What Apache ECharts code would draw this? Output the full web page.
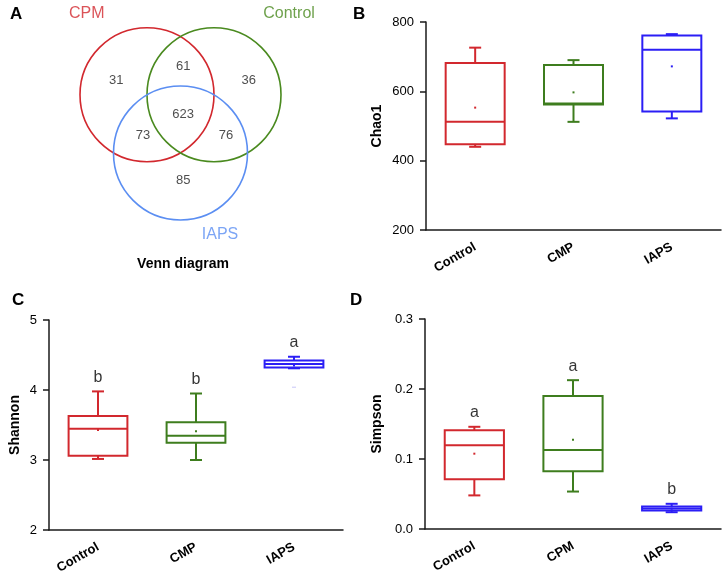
<!DOCTYPE html>
<html><head><meta charset="utf-8">
<script src="https://cdn.jsdelivr.net/npm/echarts@6/dist/echarts.min.js"></script>
<style>html,body{margin:0;padding:0;background:#fff}#c{width:726px;height:581px}</style>
</head><body><div id="c"></div><script>
// ---- data ----
const vennSets = ['CPM', 'Control', 'IAPS'];
const vennCounts = [31, 61, 36, 623, 73, 76, 85]; // CPM only, CPM∩Control, Control only, all, CPM∩IAPS, Control∩IAPS, IAPS only

const chaoCats = ['Control', 'CMP', 'IAPS'];
const chaoMin = [440, 512, 522];
const chaoQ1 = [447, 562, 542];
const chaoMed = [512, 565, 720];
const chaoQ3 = [682, 676, 761];
const chaoMax = [726, 690, 765];
const chaoMean = [553, 597, 672];
const chaoTicks = [200, 400, 600, 800];

const shanCats = ['Control', 'CMP', 'IAPS'];
const shanMin = [3.015, 3.0, 4.31];
const shanQ1 = [3.06, 3.245, 4.32];
const shanMed = [3.445, 3.345, 4.37];
const shanQ3 = [3.63, 3.54, 4.42];
const shanMax = [3.98, 3.95, 4.475];
const shanMean = [3.43, 3.41, 4.35];
const shanOutlier = [[2, 4.04]];
const shanLetters = ['b', 'b', 'a'];
const shanTicks = [2, 3, 4, 5];

const simpCats = ['Control', 'CPM', 'IAPS'];
const simpMin = [0.048, 0.0535, 0.024];
const simpQ1 = [0.071, 0.0825, 0.0264];
const simpMed = [0.1195, 0.113, 0.0293];
const simpQ3 = [0.141, 0.19, 0.032];
const simpMax = [0.146, 0.2126, 0.036];
const simpMean = [0.1076, 0.1276, 0.029];
const simpLetters = ['a', 'a', 'b'];
const simpTicks = [0.0, 0.1, 0.2, 0.3];

// ---- layout / style ----
const boxColors = ['#d2282e', '#3e7d1e', '#2b1ef5'];
const vennColors = ['#d2282e', '#4a8a1f', '#5b8ef2'];
const vennCircleLayout = [[-0.5, 0.29, 1], [0.5, 0.29, 1], [0, -0.58, 1]];
const vennCountLayout = [[-0.96, 0.50], [0.04, 0.72], [1.02, 0.50], [0.04, -0.01], [-0.56, -0.31], [0.68, -0.31], [0.04, -0.99]];
const vennSetLayout = [[-1.40, 1.50], [1.62, 1.50], [0.59, -1.80]];
const FONT = 'Liberation Sans, Arial, sans-serif';

function boxData(mn, q1, md, q3, mx, mean) {
  return mn.map((v, i) => [i, mn[i], q1[i], md[i], q3[i], mx[i], mean[i]]);
}

function renderBox(params, api) {
  const i = api.value(0);
  const pMin = api.coord([i, api.value(1)]);
  const pQ1 = api.coord([i, api.value(2)]);
  const pMed = api.coord([i, api.value(3)]);
  const pQ3 = api.coord([i, api.value(4)]);
  const pMax = api.coord([i, api.value(5)]);
  const pMean = api.coord([i, api.value(6)]);
  const band = api.size([1, 0])[0];
  const hw = band * 0.3;
  const cw = 6;
  const x = pMin[0];
  const c = boxColors[i];
  const st = { stroke: c, lineWidth: 2, fill: null };
  return {
    type: 'group',
    children: [
      { type: 'line', shape: { x1: x, y1: pQ3[1], x2: x, y2: pMax[1] }, style: st },
      { type: 'line', shape: { x1: x - cw, y1: pMax[1], x2: x + cw, y2: pMax[1] }, style: st },
      { type: 'line', shape: { x1: x, y1: pQ1[1], x2: x, y2: pMin[1] }, style: st },
      { type: 'line', shape: { x1: x - cw, y1: pMin[1], x2: x + cw, y2: pMin[1] }, style: st },
      { type: 'rect', shape: { x: x - hw, y: pQ3[1], width: 2 * hw, height: pQ1[1] - pQ3[1] }, style: { stroke: c, lineWidth: 2, fill: '#fff' } },
      { type: 'line', shape: { x1: x - hw, y1: pMed[1], x2: x + hw, y2: pMed[1] }, style: st },
      { type: 'rect', shape: { x: pMean[0] - 1, y: pMean[1] - 1, width: 2, height: 2 }, style: { fill: c } }
    ]
  };
}

function renderCircle(params, api) {
  const c = api.coord([api.value(0), api.value(1)]);
  const r = api.size([api.value(2), 0])[0];
  return { type: 'circle', shape: { cx: c[0], cy: c[1], r: r }, style: { stroke: vennColors[params.dataIndex], lineWidth: 1.6, fill: null } };
}

const axisLineStyle = { color: '#1a1a1a', width: 1.5 };
function xAx(gi, cats) {
  return {
    type: 'category', gridIndex: gi, data: cats, boundaryGap: true,
    axisLine: { lineStyle: axisLineStyle },
    axisTick: { alignWithLabel: true, length: 5, lineStyle: axisLineStyle },
    axisLabel: { rotate: 30, color: '#000', fontWeight: 'bold', fontSize: 13, fontFamily: FONT, margin: 16 },
    splitLine: { show: false }
  };
}
function yAx(gi, ticks, name, gap, fmt) {
  return {
    type: 'value', gridIndex: gi, min: ticks[0], max: ticks[ticks.length - 1], interval: ticks[1] - ticks[0],
    name: name, nameLocation: 'middle', nameGap: gap,
    nameTextStyle: { color: '#000', fontWeight: 'bold', fontSize: 14, fontFamily: FONT },
    axisLine: { show: true, lineStyle: axisLineStyle },
    axisTick: { show: true, length: 6, lineStyle: axisLineStyle },
    axisLabel: { color: '#000', fontSize: 13, fontFamily: FONT, margin: 12, formatter: fmt },
    splitLine: { show: false }
  };
}

const chart = echarts.init(document.getElementById('c'), null, { renderer: 'canvas' });
const option = {
  backgroundColor: '#fff',
  animation: false,
  grid: [
    { left: 13, top: 7, width: 335, height: 261.3 },
    { left: 426, top: 22, width: 295, height: 208 },
    { left: 49, top: 320, width: 294, height: 210 },
    { left: 425, top: 319, width: 296, height: 210 }
  ],
  xAxis: [
    { type: 'value', gridIndex: 0, min: -2.5, max: 2.5, show: false },
    xAx(1, chaoCats), xAx(2, shanCats), xAx(3, simpCats)
  ],
  yAxis: [
    { type: 'value', gridIndex: 0, min: -2.3, max: 1.6, show: false },
    yAx(1, chaoTicks, 'Chao1', 42, v => String(v)),
    yAx(2, shanTicks, 'Shannon', 27, v => String(v)),
    yAx(3, simpTicks, 'Simpson', 41, v => v.toFixed(1))
  ],
  graphic: [
    { type: 'text', left: 10, top: 6, style: { text: 'A', font: 'bold 17px ' + FONT, fill: '#000' } },
    { type: 'text', left: 353, top: 6, style: { text: 'B', font: 'bold 17px ' + FONT, fill: '#000' } },
    { type: 'text', left: 12, top: 292, style: { text: 'C', font: 'bold 17px ' + FONT, fill: '#000' } },
    { type: 'text', left: 350, top: 292, style: { text: 'D', font: 'bold 17px ' + FONT, fill: '#000' } },
    { type: 'text', x: 183, y: 264, style: { text: 'Venn diagram', font: 'bold 14px ' + FONT, fill: '#000', align: 'center', verticalAlign: 'middle' } }
  ],
  series: [
    { type: 'custom', xAxisIndex: 0, yAxisIndex: 0, renderItem: renderCircle, data: vennCircleLayout, silent: true },
    { type: 'scatter', xAxisIndex: 0, yAxisIndex: 0, symbolSize: 0,
      data: vennCounts.map((v, i) => vennCountLayout[i]),
      label: { show: true, position: 'inside', formatter: p => String(vennCounts[p.dataIndex]), color: '#222', fontSize: 13, fontFamily: FONT } },
    { type: 'scatter', xAxisIndex: 0, yAxisIndex: 0, symbolSize: 0,
      data: vennSets.map((s, i) => ({ value: vennSetLayout[i], label: { color: vennColors[i] } })),
      label: { show: true, position: 'inside', formatter: p => vennSets[p.dataIndex], fontSize: 16, fontFamily: FONT } },
    { type: 'custom', xAxisIndex: 1, yAxisIndex: 1, renderItem: renderBox, encode: { x: 0, y: [1, 2, 3, 4, 5] },
      data: boxData(chaoMin, chaoQ1, chaoMed, chaoQ3, chaoMax, chaoMean) },
    { type: 'custom', xAxisIndex: 2, yAxisIndex: 2, renderItem: renderBox, encode: { x: 0, y: [1, 2, 3, 4, 5] },
      data: boxData(shanMin, shanQ1, shanMed, shanQ3, shanMax, shanMean) },
    { type: 'scatter', xAxisIndex: 2, yAxisIndex: 2, data: shanOutlier, symbol: 'rect', symbolSize: [4, 1], itemStyle: { color: '#b9b6f5' } },
    { type: 'scatter', xAxisIndex: 2, yAxisIndex: 2, symbolSize: 0,
      data: shanMax.map((v, i) => [i, v]),
      label: { show: true, position: 'top', distance: 6, formatter: p => shanLetters[p.dataIndex], color: '#000', fontSize: 16, fontFamily: FONT } },
    { type: 'custom', xAxisIndex: 3, yAxisIndex: 3, renderItem: renderBox, encode: { x: 0, y: [1, 2, 3, 4, 5] },
      data: boxData(simpMin, simpQ1, simpMed, simpQ3, simpMax, simpMean) },
    { type: 'scatter', xAxisIndex: 3, yAxisIndex: 3, symbolSize: 0,
      data: simpMax.map((v, i) => [i, v]),
      label: { show: true, position: 'top', distance: 6, formatter: p => simpLetters[p.dataIndex], color: '#000', fontSize: 16, fontFamily: FONT } }
  ]
};
chart.setOption(option);
</script></body></html>
